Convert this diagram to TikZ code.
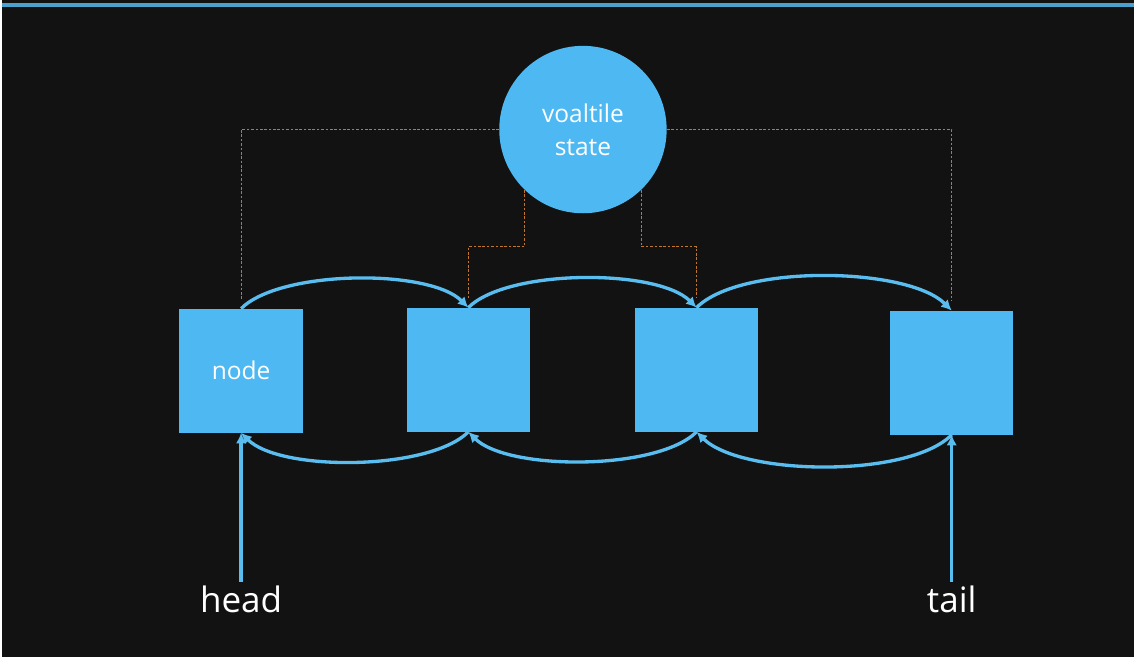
\documentclass[tikz,border=0pt]{standalone}
\usepackage{fontspec}
\setmainfont{Open Sans}
\usetikzlibrary{arrows.meta}
\definecolor{chalk}{HTML}{121212}
\definecolor{cellblue}{HTML}{4DB8F2}
\definecolor{lineblue}{HTML}{5ABDF0}
\definecolor{rust}{HTML}{C0762E}
\tikzset{
  cell/.style={fill=cellblue,minimum size=2.48cm,inner sep=0pt,text=white,font=\fontsize{14}{19}\selectfont},
  link/.style={draw=lineblue,line width=1.9pt,-{Latex[length=6pt,width=6pt]}},
  guard/.style={draw=rust,line width=0.7pt,dash pattern=on 1.5pt off 1pt},
  ptr/.style={text=white,inner sep=2pt,font=\fontsize{20}{24}\selectfont},
}
\begin{document}
\begin{tikzpicture}[x=0.02cm,y=0.02cm]
\pgfmathsetmacro{\kw}{1136}
\pgfmathsetmacro{\kh}{659}
\pgfmathsetmacro{\kgap}{0.2}
\fill[chalk](0,0) rectangle (\kw,\kh);
\draw[lineblue!85!black,line width=2.2pt](0,654)--(\kw,654);
% shared state
\node[circle,fill=cellblue,minimum size=3.36cm,inner sep=0pt,text=white,align=center,font=\fontsize{14}{19}\selectfont](vol) at (583,529){voaltile\\state};
% queue nodes
\foreach \i/\x/\y/\t in {1/240/287/node,2/468/288/,3/697/288/,4/953/285/}{\node[cell](n\i) at (\x,\y){\t};}
% dashed links to state
\draw[guard](vol.west) -| ([yshift=\kgap cm]n1.north);
\draw[guard](vol.east) -| ([yshift=\kgap cm]n4.north);
\draw[guard](vol.226) -- ++(0,-57) -| ([yshift=\kgap cm]n2.north);
\draw[guard](vol.314) -- ++(0,-57) -| ([yshift=\kgap cm]n3.north);
% next / prev
\foreach \a/\b in {1/2,2/3,3/4}{\draw[link](n\a.north) to[out=45,in=135,looseness=0.62](n\b.north);}
\foreach \a/\b in {2/1,3/2,4/3}{\draw[link](n\a.south) to[out=-135,in=-45,looseness=0.62](n\b.south);}
% head and tail
\node[ptr](head) at (240,58){head};
\node[ptr](tail) at (953,58){tail};
\draw[link](head.north)--(n1.south);
\draw[link](tail.north)--(n4.south);
\end{tikzpicture}
\end{document}
